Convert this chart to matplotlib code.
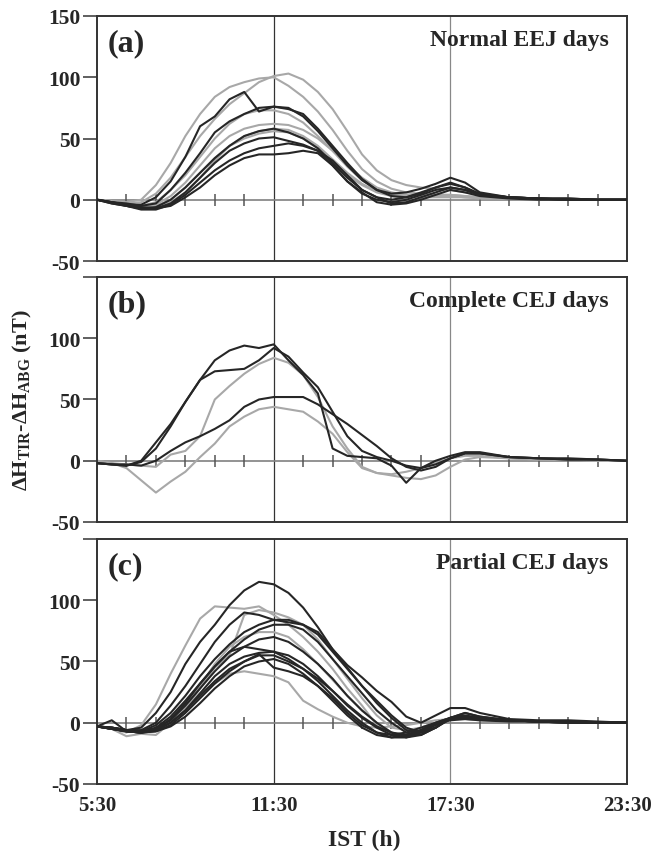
import matplotlib
matplotlib.use("Agg")
import matplotlib.pyplot as plt

plt.rcParams['font.family'] = ['Liberation Serif', 'DejaVu Serif']
plt.rcParams['font.weight'] = 'bold'

# time axis (IST hours): half-hourly until 18:30, then hourly
t = [5.5, 6, 6.5, 7, 7.5, 8, 8.5, 9, 9.5, 10, 10.5, 11, 11.5, 12, 12.5, 13, 13.5,
     14, 14.5, 15, 15.5, 16, 16.5, 17, 17.5, 18, 18.5, 19.5, 20.5, 21.5, 22.5, 23.5]

# (a) Normal EEJ days
a_gray = [
    [0, -1, -2, 0, 12, 30, 52, 70, 84, 92, 96, 99, 100, 93, 84, 72, 57, 40, 25, 15, 9, 6, 5, 4, 4, 3, 2, 1, 1, 0, 0, 0],
    [0, -1, -3, -2, 5, 18, 35, 52, 66, 78, 87, 96, 101, 103, 98, 88, 74, 56, 37, 24, 16, 12, 10, 9, 8, 6, 4, 2, 1, 1, 0, 0],
    [0, -2, -4, -5, -2, 8, 20, 35, 50, 62, 70, 73, 73, 70, 63, 52, 40, 27, 16, 9, 5, 3, 3, 3, 3, 2, 2, 1, 1, 0, 0, 0],
    [0, -2, -4, -6, -4, 3, 14, 28, 42, 52, 58, 61, 62, 61, 57, 50, 40, 28, 18, 10, 6, 4, 4, 4, 4, 3, 2, 1, 1, 0, 0, 0],
    [0, -2, -4, -6, -6, -2, 6, 18, 32, 44, 52, 56, 58, 57, 52, 44, 33, 22, 13, 7, 4, 3, 3, 3, 3, 2, 2, 1, 1, 0, 0, 0],
    [0, -1, -3, -5, -5, 0, 10, 22, 34, 44, 50, 54, 56, 55, 50, 42, 32, 20, 12, 6, 3, 2, 2, 2, 2, 2, 1, 1, 0, 0, 0, 0],
]
a_black = [
    [0, -2, -4, -4, 2, 15, 35, 60, 68, 82, 88, 72, 76, 74, 70, 58, 44, 30, 17, 8, 3, 2, 5, 10, 14, 10, 4, 2, 1, 1, 0, 0],
    [0, -2, -3, -5, -3, 8, 22, 38, 55, 64, 70, 75, 76, 75, 68, 56, 42, 28, 16, 8, 5, 6, 9, 13, 18, 14, 6, 2, 1, 1, 0, 0],
    [0, -3, -5, -7, -6, 0, 10, 22, 34, 44, 52, 56, 58, 55, 50, 42, 30, 18, 8, 2, 0, 2, 6, 10, 13, 10, 5, 2, 1, 0, 0, 0],
    [0, -3, -5, -7, -7, -3, 6, 18, 30, 40, 46, 50, 51, 48, 45, 40, 28, 15, 5, 0, -2, 0, 4, 8, 10, 8, 4, 2, 1, 0, 0, 0],
    [0, -2, -5, -8, -8, -4, 4, 14, 24, 32, 38, 42, 44, 46, 44, 40, 32, 20, 8, 2, -3, -2, 2, 6, 10, 8, 4, 2, 1, 0, 0, 0],
    [0, -2, -4, -6, -7, -5, 2, 10, 20, 28, 34, 37, 37, 38, 40, 38, 28, 15, 6, -2, -4, -3, 0, 4, 8, 6, 3, 1, 0, 0, 0, 0],
]

# (b) Complete CEJ days
b_gray = [
    [0, -2, -6, -16, -26, -17, -9, 3, 14, 28, 36, 42, 44, 42, 40, 32, 22, 7, -6, -10, -12, -14, -15, -12, -5, 1, 3, 2, 1, 1, 0, 0],
    [0, -2, -3, -4, -5, 5, 8, 20, 50, 61, 71, 79, 84, 80, 70, 52, 28, 10, -5, -10, -11, -9, -6, -2, 2, 4, 4, 2, 1, 1, 0, 0],
]
b_black = [
    [-2, -3, -4, 0, 15, 30, 48, 66, 82, 90, 94, 92, 95, 82, 70, 55, 10, 4, 3, 2, -4, -18, -6, 0, 4, 7, 7, 3, 2, 2, 1, 0],
    [-2, -3, -4, -1, 10, 28, 48, 66, 73, 74, 75, 82, 92, 85, 72, 60, 40, 20, 8, 3, 0, -4, -6, -3, 2, 6, 6, 3, 2, 1, 1, 0],
    [-2, -3, -3, -4, 0, 8, 15, 20, 26, 33, 44, 50, 52, 52, 52, 46, 38, 30, 21, 12, 2, -5, -8, -5, 2, 6, 6, 3, 2, 1, 1, 0],
]

# (c) Partial CEJ days
c_gray = [
    [-3, -5, -8, -2, 15, 40, 63, 85, 95, 94, 93, 95, 88, 80, 70, 58, 44, 28, 14, -2, -10, -8, -4, 0, 3, 4, 3, 2, 1, 1, 0, 0],
    [-3, -5, -11, -9, -10, 0, 12, 24, 32, 40, 42, 40, 38, 33, 18, 11, 5, 0, -3, -4, -3, -2, 0, 2, 3, 3, 2, 1, 1, 0, 0, 0],
    [-3, -4, -6, -8, -6, 0, 12, 28, 45, 55, 88, 92, 90, 86, 80, 68, 52, 36, 20, 6, -4, -6, -4, 0, 3, 4, 3, 2, 1, 1, 0, 0],
    [-3, -4, -6, -8, -6, 2, 15, 30, 48, 62, 70, 74, 74, 70, 60, 48, 35, 22, 10, 0, -8, -10, -6, -1, 3, 4, 3, 2, 1, 1, 0, 0],
]
c_black = [
    [-3, -4, -6, -4, 8, 25, 48, 66, 80, 96, 108, 115, 113, 106, 94, 78, 60, 47, 37, 26, 17, 5, 0, 6, 12, 12, 8, 3, 2, 2, 1, 0],
    [-3, -4, -6, -6, 0, 14, 30, 48, 66, 80, 90, 88, 84, 82, 80, 74, 60, 45, 30, 18, 6, -4, -8, -4, 4, 8, 5, 2, 1, 1, 0, 0],
    [-3, -4, -6, -7, -2, 8, 22, 38, 52, 64, 74, 80, 84, 84, 80, 72, 58, 44, 30, 16, 4, -6, -8, -4, 4, 8, 5, 2, 1, 1, 0, 0],
    [-3, -4, -6, -7, -4, 5, 18, 32, 46, 58, 68, 76, 80, 80, 76, 66, 52, 38, 24, 10, 0, -8, -10, -4, 4, 6, 4, 2, 1, 1, 0, 0],
    [-3, 2, -7, -8, -5, 2, 14, 28, 42, 54, 62, 68, 70, 66, 58, 48, 36, 22, 10, 0, -8, -12, -10, -4, 3, 5, 3, 2, 1, 1, 0, 0],
    [-3, -5, -7, -8, -5, 3, 16, 32, 46, 58, 62, 60, 58, 52, 44, 34, 22, 10, 0, -8, -12, -12, -8, -2, 3, 4, 3, 2, 1, 1, 0, 0],
    [-3, -5, -7, -8, -6, 0, 10, 24, 38, 48, 54, 57, 58, 55, 48, 38, 26, 14, 4, -4, -10, -11, -7, -1, 3, 4, 3, 2, 1, 0, 0, 0],
    [-3, -5, -7, -8, -7, -2, 8, 20, 32, 42, 50, 55, 55, 50, 44, 36, 26, 15, 5, -3, -8, -10, -6, 0, 4, 4, 3, 2, 1, 0, 0, 0],
    [-3, -5, -7, -8, -7, -3, 5, 16, 28, 38, 46, 50, 52, 48, 40, 30, 18, 6, -4, -10, -12, -10, -6, -1, 2, 3, 2, 1, 1, 0, 0, 0],
    [-3, -5, -6, -8, -6, 0, 10, 22, 34, 44, 50, 56, 45, 42, 38, 30, 20, 8, -2, -8, -10, -8, -4, 0, 4, 5, 3, 2, 1, 0, 0, 0],
]

panels = [
    ('(a)', 'Normal EEJ days', a_gray, a_black),
    ('(b)', 'Complete CEJ days', b_gray, b_black),
    ('(c)', 'Partial CEJ days', c_gray, c_black),
]
hours = [6.5, 7.5, 8.5, 9.5, 10.5, 12.5, 13.5, 14.5, 15.5, 16.5, 18.5, 19.5, 20.5, 21.5, 22.5]
xticks = [5.5, 11.5, 17.5, 23.5]
xlabels = ['5:30', '11:30', '17:30', '23:30']
yticks = [-50, 0, 50, 100, 150]

fig = plt.figure(figsize=(6.56, 8.54), dpi=100)
bottoms = [0.6932, 0.3876, 0.0808]
txt = '#262626'

for i, (tag, title, grays, blacks) in enumerate(panels):
    ax = fig.add_axes([0.1479, bottoms[i], 0.808, 0.2869])
    ax.set_xlim(5.5, 23.5)
    ax.set_ylim(-50, 150)
    ax.axvline(11.5, color='#333333', lw=0.9, zorder=1)
    ax.axvline(17.5, color='#888888', lw=0.9, zorder=1)
    ax.axhline(0, color='#808080', lw=1.2, zorder=1)
    ax.plot(hours, [0] * len(hours), ls='none', marker='|', ms=9, mew=1.1,
            color='#555555', zorder=1)
    for g in grays:
        ax.plot(t, g, color='#a8a8a8', lw=1.5, zorder=2)
    for k in blacks:
        ax.plot(t, k, color='#262626', lw=1.5, zorder=3)

    for s in ax.spines.values():
        s.set_color('#333333')
        s.set_linewidth(1.4)
    ax.set_yticks(yticks)
    if i == 0:
        ax.set_yticklabels([str(v) for v in yticks])
    else:
        ax.set_yticklabels(['-50', '0', '50', '100', ''])
    ax.tick_params(axis='y', direction='out', length=10, width=1.2,
                   color='#444444', labelsize=15.5, labelcolor=txt, pad=2)
    ax.set_xticks(xticks)
    if i == 2:
        ax.set_xticklabels(xlabels)
    else:
        ax.set_xticklabels([])
    ax.tick_params(axis='x', length=0, labelsize=15, labelcolor=txt, pad=8)

    ax.text(0.02, 0.95, tag, transform=ax.transAxes, ha='left', va='top',
            fontsize=23, color=txt)
    ax.text(0.965, 0.905, title, transform=ax.transAxes, ha='right', va='center',
            fontsize=17, color=txt)

fig.text(0.035, 0.532, r'ΔH$_\mathregular{TIR}$-ΔH$_\mathregular{ABG}$ (nT)',
         rotation=90, ha='center', va='center', fontsize=16, color=txt)
fig.text(0.556, 1 - 840 / 854, 'IST (h)', ha='center', va='center',
         fontsize=17, color=txt)

fig.savefig('out.png', dpi=100)
